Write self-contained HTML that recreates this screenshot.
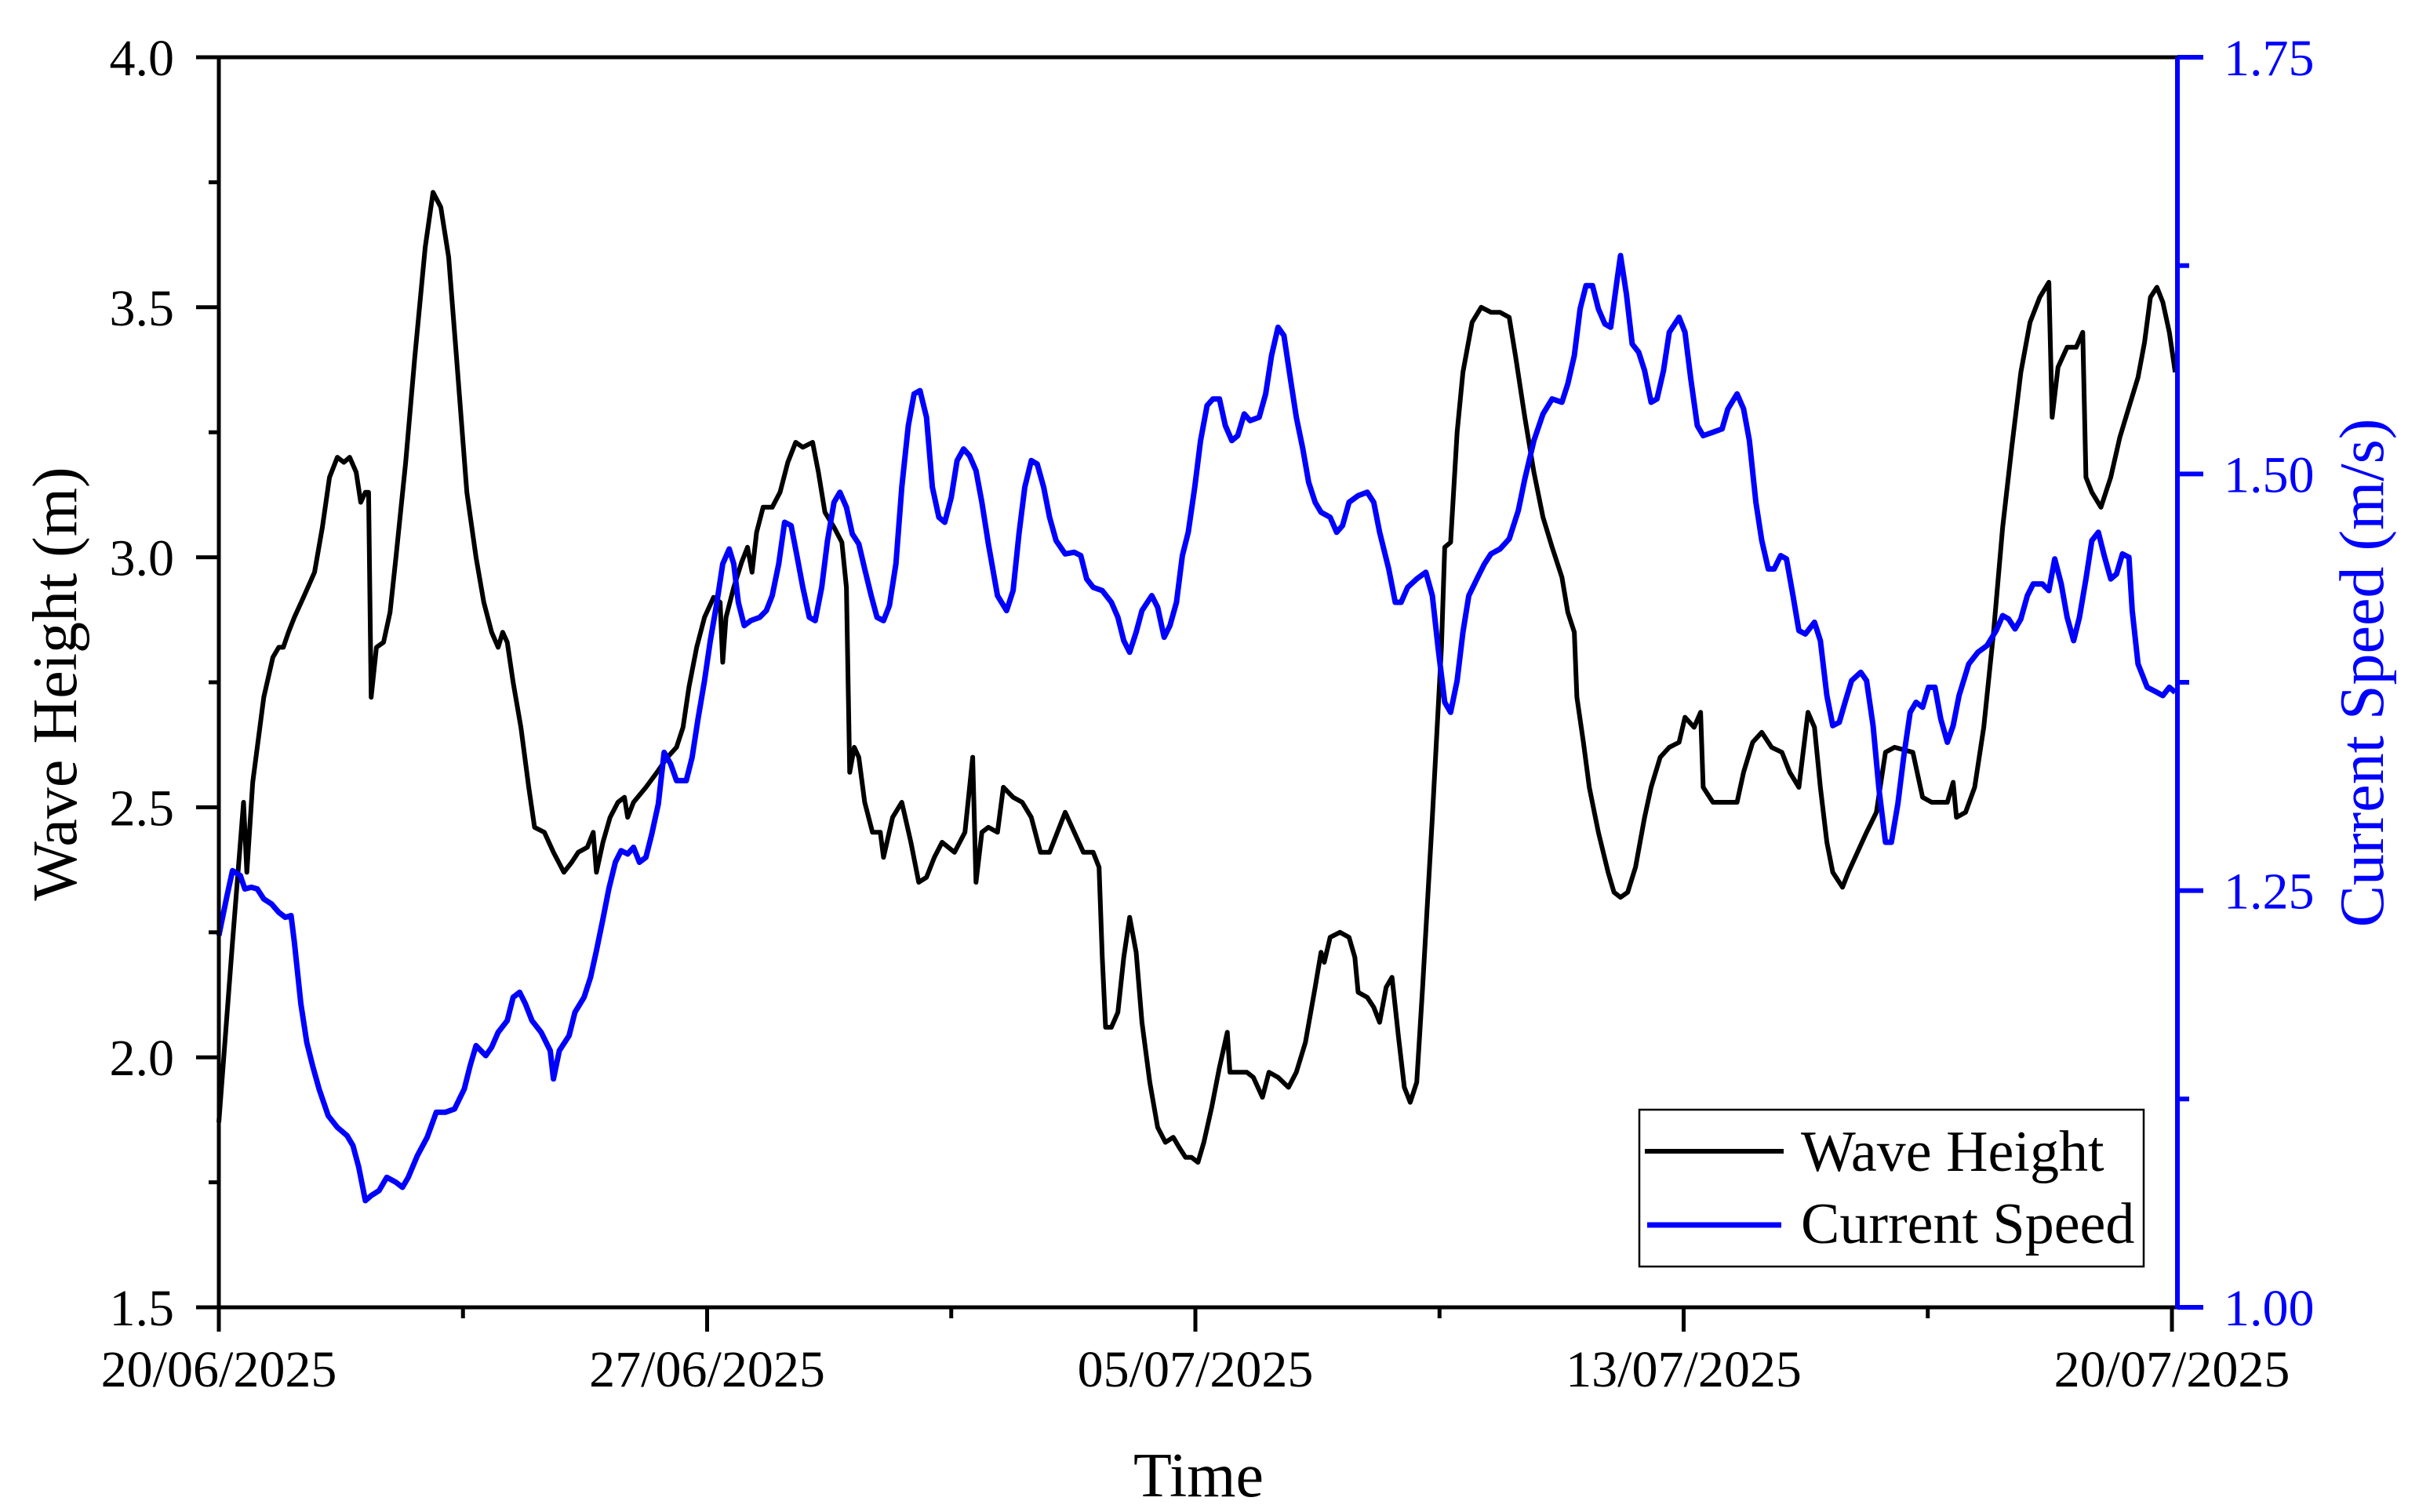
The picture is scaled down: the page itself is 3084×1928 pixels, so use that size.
<!DOCTYPE html>
<html><head><meta charset="utf-8"><style>
html,body{margin:0;padding:0;background:#fff;}
svg{display:block;font-family:"Liberation Serif","Times New Roman",serif;}
</style></head><body>
<svg id="chart" width="3084" height="1928" viewBox="0 0 3084 1928" xmlns="http://www.w3.org/2000/svg">
<rect x="0" y="0" width="3084" height="1928" fill="#fff"/>
<g id="marks"></g>
<g id="axes"></g>
<text x="1528" y="1908" font-size="80" text-anchor="middle">Time</text>
<text transform="translate(97,872) rotate(-90)" font-size="80" text-anchor="middle">Wave Height (m)</text>
<text transform="translate(3038,858) rotate(-90)" font-size="80" text-anchor="middle" fill="#0000ff">Current Speed (m/s)</text>
<g>
<rect x="2090" y="1415" width="643" height="200" fill="#fff" stroke="#000" stroke-width="2.5"/>
<line x1="2097" y1="1468" x2="2274" y2="1468" stroke="#000" stroke-width="6"/>
<text x="2296" y="1493" font-size="74">Wave Height</text>
<line x1="2100" y1="1562" x2="2271" y2="1562" stroke="#0000ff" stroke-width="7"/>
<text x="2296" y="1585" font-size="74">Current Speed</text>
</g>
</svg>
<script>
const xTickLabels = ["20/06/2025","27/06/2025","05/07/2025","13/07/2025","20/07/2025"];
const xTickDays = [0, 7.5, 15, 22.5, 30];
const leftTicks = [1.5, 2.0, 2.5, 3.0, 3.5, 4.0];
const leftTickLabels = ["1.5","2.0","2.5","3.0","3.5","4.0"];
const rightTicks = [1.00, 1.25, 1.50, 1.75];
const rightTickLabels = ["1.00","1.25","1.50","1.75"];
const waveDays = [0,0.21,0.38,0.43,0.52,0.69,0.83,0.92,0.99,1.07,1.16,1.30,1.47,1.59,1.70,1.82,1.92,2.01,2.11,2.18,2.25,2.30,2.34,2.42,2.53,2.63,2.72,2.87,3.01,3.17,3.29,3.41,3.53,3.65,3.81,3.95,4.07,4.19,4.29,4.36,4.43,4.52,4.64,4.76,4.85,5.00,5.14,5.30,5.42,5.52,5.66,5.75,5.80,5.90,6.01,6.13,6.23,6.28,6.37,6.56,6.73,6.89,7.03,7.13,7.22,7.34,7.46,7.60,7.70,7.74,7.79,7.91,8.03,8.12,8.19,8.26,8.36,8.50,8.62,8.74,8.86,8.97,9.12,9.21,9.31,9.45,9.57,9.64,9.69,9.76,9.83,9.92,10.04,10.16,10.21,10.35,10.49,10.63,10.75,10.87,10.99,11.11,11.30,11.46,11.58,11.63,11.72,11.82,11.96,12.05,12.20,12.34,12.48,12.62,12.76,12.91,13.00,13.14,13.28,13.43,13.52,13.57,13.62,13.71,13.81,13.90,13.99,14.09,14.18,14.30,14.42,14.54,14.66,14.75,14.85,14.94,15.04,15.13,15.25,15.37,15.49,15.53,15.61,15.79,15.89,16.03,16.13,16.27,16.43,16.55,16.69,16.84,16.93,16.98,17.07,17.22,17.36,17.45,17.50,17.64,17.74,17.83,17.93,18.02,18.12,18.21,18.30,18.40,18.49,18.64,18.78,18.83,18.92,19.02,19.11,19.25,19.39,19.54,19.68,19.82,19.92,20.06,20.20,20.34,20.48,20.63,20.72,20.82,20.86,20.96,21.05,21.19,21.34,21.43,21.53,21.64,21.76,21.90,22.00,22.14,22.28,22.43,22.52,22.66,22.76,22.80,22.95,23.14,23.32,23.42,23.56,23.70,23.85,24.01,24.13,24.27,24.41,24.51,24.60,24.70,24.79,24.94,25.03,25.17,25.31,25.46,25.60,25.74,26.02,26.17,26.31,26.55,26.64,26.69,26.83,26.97,27.11,27.26,27.40,27.54,27.68,27.82,27.97,28.11,28.16,28.25,28.39,28.53,28.63,28.68,28.77,28.91,29.06,29.20,29.34,29.48,29.58,29.67,29.77,29.86,29.96,30.05];
const waveHeight = [1.87,2.23,2.51,2.37,2.55,2.72,2.80,2.82,2.82,2.85,2.88,2.92,2.97,3.06,3.16,3.20,3.19,3.20,3.17,3.11,3.13,3.13,2.72,2.82,2.83,2.89,3.00,3.19,3.40,3.62,3.73,3.70,3.60,3.40,3.13,3.00,2.91,2.85,2.82,2.85,2.83,2.75,2.66,2.54,2.46,2.45,2.41,2.37,2.39,2.41,2.42,2.45,2.37,2.43,2.48,2.51,2.52,2.48,2.51,2.54,2.57,2.60,2.62,2.66,2.74,2.82,2.88,2.92,2.91,2.79,2.88,2.94,2.99,3.02,2.97,3.05,3.10,3.10,3.13,3.19,3.23,3.22,3.23,3.17,3.09,3.06,3.03,2.94,2.57,2.62,2.60,2.51,2.45,2.45,2.40,2.48,2.51,2.43,2.35,2.36,2.40,2.43,2.41,2.45,2.60,2.35,2.45,2.46,2.45,2.54,2.52,2.51,2.48,2.41,2.41,2.46,2.49,2.45,2.41,2.41,2.38,2.20,2.06,2.06,2.09,2.20,2.28,2.21,2.07,1.95,1.86,1.83,1.84,1.82,1.80,1.80,1.79,1.83,1.90,1.98,2.05,1.97,1.97,1.97,1.96,1.92,1.97,1.96,1.94,1.97,2.03,2.14,2.21,2.19,2.24,2.25,2.24,2.20,2.13,2.12,2.10,2.07,2.14,2.16,2.04,1.94,1.91,1.95,2.14,2.48,2.82,3.02,3.03,3.25,3.37,3.47,3.50,3.49,3.49,3.48,3.40,3.28,3.17,3.08,3.02,2.96,2.89,2.85,2.72,2.63,2.54,2.45,2.37,2.33,2.32,2.33,2.38,2.48,2.54,2.60,2.62,2.63,2.68,2.66,2.69,2.54,2.51,2.51,2.51,2.57,2.63,2.65,2.62,2.61,2.57,2.54,2.69,2.66,2.54,2.43,2.37,2.34,2.37,2.41,2.45,2.49,2.61,2.62,2.61,2.52,2.51,2.51,2.55,2.48,2.49,2.54,2.66,2.85,3.06,3.22,3.37,3.47,3.52,3.55,3.28,3.38,3.42,3.42,3.45,3.16,3.13,3.10,3.16,3.24,3.30,3.36,3.43,3.52,3.54,3.51,3.45,3.37];
const currentDays = [0,0.12,0.21,0.33,0.40,0.50,0.59,0.69,0.81,0.92,1.02,1.11,1.16,1.26,1.35,1.44,1.54,1.68,1.82,1.97,2.06,2.15,2.25,2.34,2.46,2.58,2.72,2.82,2.91,3.05,3.20,3.34,3.48,3.62,3.77,3.86,3.95,4.10,4.19,4.29,4.43,4.52,4.62,4.71,4.81,4.95,5.09,5.14,5.23,5.38,5.47,5.61,5.71,5.80,5.90,5.99,6.09,6.18,6.28,6.37,6.46,6.56,6.65,6.75,6.84,6.94,7.03,7.18,7.27,7.36,7.46,7.55,7.65,7.74,7.84,7.91,7.98,8.07,8.17,8.31,8.41,8.50,8.60,8.69,8.79,8.88,8.97,9.07,9.16,9.26,9.35,9.45,9.54,9.64,9.73,9.83,9.92,10.02,10.11,10.21,10.30,10.40,10.49,10.59,10.68,10.77,10.87,10.96,11.06,11.15,11.25,11.34,11.44,11.53,11.63,11.72,11.82,11.96,12.10,12.20,12.29,12.38,12.48,12.57,12.67,12.76,12.86,13.00,13.14,13.24,13.33,13.43,13.57,13.71,13.81,13.90,13.99,14.09,14.18,14.33,14.42,14.52,14.61,14.71,14.80,14.89,14.99,15.08,15.18,15.27,15.37,15.46,15.56,15.65,15.75,15.84,15.98,16.08,16.17,16.27,16.36,16.46,16.55,16.65,16.74,16.84,16.93,17.07,17.17,17.26,17.36,17.50,17.64,17.74,17.83,17.97,18.07,18.16,18.26,18.40,18.54,18.64,18.73,18.83,18.92,19.02,19.11,19.20,19.35,19.44,19.54,19.68,19.82,19.96,20.06,20.20,20.34,20.48,20.63,20.72,20.82,20.91,21.00,21.10,21.19,21.29,21.38,21.48,21.53,21.62,21.71,21.81,21.90,22.00,22.09,22.19,22.28,22.43,22.52,22.61,22.71,22.80,22.95,23.09,23.18,23.32,23.42,23.51,23.61,23.70,23.80,23.89,23.99,24.08,24.18,24.27,24.37,24.51,24.60,24.70,24.79,24.89,24.98,25.08,25.22,25.31,25.41,25.50,25.60,25.69,25.79,25.88,25.98,26.07,26.17,26.26,26.36,26.45,26.55,26.64,26.73,26.88,27.02,27.16,27.30,27.40,27.49,27.59,27.68,27.78,27.87,28.01,28.11,28.20,28.30,28.39,28.49,28.58,28.68,28.77,28.87,28.96,29.06,29.15,29.24,29.34,29.39,29.48,29.62,29.77,29.86,29.96,30.05];
const currentSpeed = [1.223,1.246,1.262,1.259,1.251,1.252,1.251,1.245,1.242,1.237,1.234,1.235,1.219,1.182,1.159,1.145,1.131,1.115,1.108,1.103,1.097,1.084,1.064,1.067,1.070,1.078,1.075,1.072,1.078,1.091,1.102,1.117,1.117,1.119,1.131,1.145,1.157,1.151,1.156,1.165,1.172,1.186,1.189,1.182,1.172,1.165,1.154,1.137,1.154,1.163,1.177,1.186,1.198,1.214,1.233,1.251,1.267,1.274,1.272,1.276,1.267,1.270,1.284,1.302,1.333,1.326,1.316,1.316,1.330,1.353,1.376,1.400,1.423,1.446,1.455,1.446,1.423,1.409,1.412,1.414,1.418,1.427,1.446,1.471,1.469,1.451,1.432,1.414,1.412,1.432,1.460,1.483,1.489,1.480,1.464,1.458,1.443,1.427,1.414,1.412,1.421,1.446,1.492,1.529,1.548,1.550,1.534,1.492,1.474,1.471,1.486,1.508,1.515,1.511,1.502,1.483,1.458,1.427,1.418,1.430,1.464,1.492,1.508,1.506,1.492,1.474,1.460,1.452,1.453,1.451,1.437,1.432,1.430,1.423,1.414,1.400,1.393,1.405,1.418,1.427,1.420,1.402,1.409,1.423,1.451,1.465,1.492,1.520,1.541,1.545,1.545,1.529,1.520,1.523,1.536,1.532,1.534,1.548,1.571,1.588,1.583,1.557,1.534,1.515,1.495,1.483,1.477,1.474,1.465,1.469,1.483,1.487,1.489,1.483,1.465,1.443,1.423,1.423,1.432,1.437,1.441,1.427,1.395,1.363,1.357,1.376,1.405,1.427,1.439,1.446,1.452,1.455,1.461,1.478,1.497,1.520,1.536,1.545,1.543,1.554,1.571,1.599,1.613,1.613,1.599,1.590,1.588,1.617,1.631,1.608,1.578,1.573,1.562,1.543,1.545,1.562,1.585,1.594,1.585,1.557,1.529,1.523,1.525,1.527,1.539,1.548,1.539,1.520,1.483,1.460,1.443,1.443,1.451,1.449,1.427,1.406,1.404,1.411,1.400,1.367,1.349,1.351,1.363,1.376,1.381,1.376,1.349,1.311,1.279,1.279,1.302,1.330,1.357,1.363,1.360,1.372,1.372,1.353,1.339,1.349,1.367,1.386,1.393,1.397,1.406,1.415,1.413,1.407,1.413,1.427,1.434,1.434,1.430,1.449,1.434,1.414,1.400,1.414,1.437,1.460,1.465,1.451,1.437,1.440,1.452,1.450,1.418,1.386,1.372,1.369,1.367,1.372,1.369];

(function(){
const NS = "http://www.w3.org/2000/svg";
const PL = 279, PR = 2776, PT = 73, PB = 1667;
const X0 = 279, X30 = 2769;
function xs(d){ return X0 + d * (X30 - X0) / 30; }
function yl(v){ return PB - (v - 1.5) / 2.5 * (PB - PT); }
function yr(v){ return PB - (v - 1.0) / 0.75 * (PB - PT); }
function mk(tag, attrs, parent){
  const e = document.createElementNS(NS, tag);
  for (const k in attrs) e.setAttribute(k, attrs[k]);
  parent.appendChild(e);
  return e;
}
function pathFrom(ds, vs, yf){
  const n = Math.min(ds.length, vs.length);
  let s = '';
  for (let i = 0; i < n; i++) s += (i ? 'L' : 'M') + xs(ds[i]).toFixed(1) + ',' + yf(vs[i]).toFixed(1);
  return s;
}
const marks = document.getElementById('marks');
const axes = document.getElementById('axes');

const wave = mk('path', {d:pathFrom(waveDays, waveHeight, yl), fill:'none', stroke:'#000', 'stroke-width':6, 'stroke-linejoin':'round'}, marks);


const cur = mk('path', {d:pathFrom(currentDays, currentSpeed, yr), fill:'none', stroke:'#0000ff', 'stroke-width':7, 'stroke-linejoin':'round'}, marks);



const frameTop = mk('line', {x1:PL, y1:PT, x2:PR, y2:PT, stroke:'#000', 'stroke-width':5}, axes);


const frameBot = mk('line', {x1:PL-2, y1:PB, x2:PR, y2:PB, stroke:'#000', 'stroke-width':5}, axes);


const frameLeft = mk('line', {x1:PL, y1:PT-2, x2:PL, y2:PB+2, stroke:'#000', 'stroke-width':5}, axes);


const frameRight = mk('line', {x1:PR, y1:PT, x2:PR, y2:PB+2, stroke:'#0000ff', 'stroke-width':6}, axes);



xTickDays.forEach((d,i)=>{
  const x = xs(d);
  const t = mk('line', {x1:x, y1:PB, x2:x, y2:PB+31, stroke:'#000', 'stroke-width':5}, axes);
  
  
  const tx = mk('text', {x:x, y:1768, 'font-size':66, 'text-anchor':'middle'}, axes);
  tx.textContent = xTickLabels[i];
  
  
  if (i < xTickDays.length - 1) {
    const xm = xs((d + xTickDays[i+1]) / 2);
    const m = mk('line', {x1:xm, y1:PB, x2:xm, y2:PB+14, stroke:'#000', 'stroke-width':5}, axes);
    
    
  }
});
leftTicks.forEach((v,i)=>{
  const y = yl(v);
  const t = mk('line', {x1:PL-29, y1:y, x2:PL, y2:y, stroke:'#000', 'stroke-width':5}, axes);
  
  
  const tx = mk('text', {x:222, y:y+23, 'font-size':66, 'text-anchor':'end'}, axes);
  tx.textContent = leftTickLabels[i];
  
  
  if (i < leftTicks.length - 1) {
    const ym = yl((v + leftTicks[i+1]) / 2);
    const m = mk('line', {x1:PL-13, y1:ym, x2:PL, y2:ym, stroke:'#000', 'stroke-width':5}, axes);
    
    
  }
});
rightTicks.forEach((v,i)=>{
  const y = yr(v);
  const t = mk('line', {x1:PR, y1:y, x2:PR+33, y2:y, stroke:'#0000ff', 'stroke-width':6}, axes);
  
  
  const tx = mk('text', {x:2835, y:y+23, 'font-size':66, fill:'#0000ff'}, axes);
  tx.textContent = rightTickLabels[i];
  
  
  if (i < rightTicks.length - 1) {
    const ym = yr((v + rightTicks[i+1]) / 2);
    const m = mk('line', {x1:PR, y1:ym, x2:PR+15, y2:ym, stroke:'#0000ff', 'stroke-width':6}, axes);
    
    
  }
});
})();
</script>
</body></html>
